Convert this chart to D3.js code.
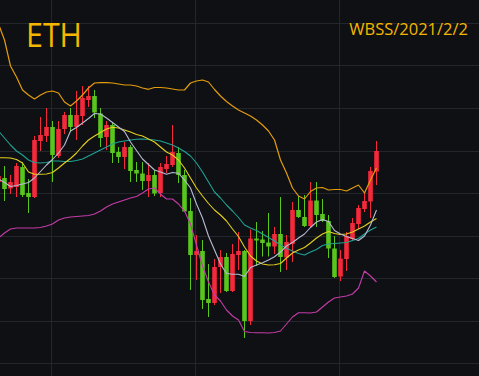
<!DOCTYPE html>
<html lang="en">
<head>
<meta charset="UTF-8">
<title>ETH</title>
<style>
html, body { margin: 0; padding: 0; background: #0e1013; overflow: hidden; }
svg { display: block; }
</style>
</head>
<body>
<svg id="chart"></svg>
<script src="https://d3js.org/d3.v7.min.js"></script>
<script>
// candle index (first one is cut by the left edge)
const candleIdx = d3.range(-1, 63);

// OHLC
const opens = [1218, 1222, 1211.5, 1213, 1233, 1207, 1203, 1259, 1264, 1273,
  1244, 1271, 1285, 1273, 1284, 1300, 1304, 1286.5, 1263, 1275,
  1248, 1243, 1253, 1230, 1226.5, 1219, 1225, 1207, 1231, 1235,
  1247, 1225, 1189, 1145, 1149, 1101, 1097, 1133, 1143, 1109,
  1145, 1149, 1079, 1161.5, 1160.5, 1157.5, 1153.5, 1166, 1142.5, 1156,
  1190, 1183, 1174, 1199.5, 1186, 1179, 1151.5, 1123.5, 1141, 1161,
  1176, 1191, 1198.5, 1228.5];
const highs = [1228, 1234, 1225, 1237, 1238, 1221, 1264, 1283, 1292, 1279,
  1279, 1288, 1292, 1309, 1314, 1314, 1310, 1292, 1279, 1278,
  1253, 1258, 1255, 1238, 1238, 1237, 1230, 1237, 1244, 1275,
  1253, 1230, 1202, 1165, 1160, 1136, 1141, 1150, 1147, 1156,
  1168, 1150, 1170.5, 1178, 1169, 1187, 1173, 1203, 1165, 1198,
  1204, 1205, 1218, 1218, 1201, 1185, 1164, 1150, 1168, 1182,
  1195, 1207, 1233, 1259];
const lows = [1214, 1199, 1206, 1203, 1203, 1187, 1202, 1249, 1258, 1218,
  1242, 1266, 1268, 1260, 1275, 1293, 1282, 1253, 1250, 1237,
  1237, 1231, 1218, 1218, 1210, 1203, 1204, 1203, 1227, 1233,
  1217, 1188, 1110, 1120, 1091, 1083, 1095, 1107, 1108, 1108,
  1130, 1062, 1075, 1134, 1143.5, 1143.5, 1146, 1128, 1130, 1138,
  1182, 1173, 1172, 1173, 1178, 1142, 1122, 1119, 1129, 1160,
  1171, 1188, 1182, 1215];
const closes = [1224, 1211, 1218, 1234, 1205, 1203, 1260, 1265, 1273, 1245,
  1271, 1285, 1273, 1285, 1302, 1304, 1287.5, 1262, 1275, 1247,
  1243, 1253, 1229, 1226.5, 1219, 1225, 1206.5, 1233, 1236, 1248,
  1225, 1188.5, 1145, 1149, 1100, 1097, 1133, 1143, 1109, 1146,
  1149, 1079, 1161.5, 1159.5, 1157, 1153.5, 1166, 1143, 1158, 1190,
  1183, 1174, 1199.5, 1185, 1179, 1151.5, 1123, 1141.5, 1164, 1177,
  1192, 1199, 1229, 1249];

// indicator lines
const upperBand = [1376, 1360, 1334, 1323, 1310, 1305, 1301, 1305, 1308, 1309,
  1307, 1298, 1294, 1299, 1305, 1312, 1317, 1317.3, 1317.3, 1317,
  1316, 1315, 1315, 1314, 1312, 1310.7, 1312.5, 1312.5, 1312, 1311,
  1310, 1310, 1317, 1319, 1320, 1318, 1310.5, 1304, 1298.5, 1294,
  1290, 1287, 1284, 1280, 1275, 1269, 1260, 1240, 1227, 1212,
  1204, 1201, 1208.5, 1212, 1212.5, 1210, 1210.5, 1210.5, 1209, 1212,
  1215, 1207, 1220, 1232];
const lowerBand = [1162, 1167, 1171, 1172, 1172, 1172, 1172, 1172.5, 1174, 1176,
  1180, 1182, 1183, 1183.5, 1184, 1184.5, 1186, 1189, 1193, 1196,
  1198, 1200, 1202, 1203.5, 1207, 1211, 1212, 1206, 1201, 1201,
  1196, 1189, 1176, 1155, 1134, 1118, 1105, 1099, 1090, 1084,
  1080, 1068.5, 1067.5, 1067.3, 1067.3, 1067, 1067.5, 1069, 1076, 1083,
  1087.3, 1087.3, 1087, 1088, 1093, 1098, 1102, 1103, 1104, 1106,
  1112, 1129, 1124, 1118];
const ma5 = [1221, 1217.5, 1213.5, 1214.5, 1216, 1217.5, 1222, 1228.5, 1235, 1240.5,
  1247, 1255, 1269, 1272.5, 1277, 1281.5, 1286.5, 1286, 1282, 1277.5,
  1273, 1268.5, 1258, 1249.5, 1241, 1235.5, 1230, 1228, 1225.7, 1227.5,
  1226.7, 1220, 1212, 1196, 1182, 1164, 1150, 1136, 1126.5, 1125.7,
  1125.7, 1123.5, 1132.5, 1135, 1137.3, 1140, 1143.3, 1148, 1154, 1157.5,
  1162, 1166, 1172.5, 1178, 1180.5, 1178.5, 1169.5, 1166, 1163.5, 1161.5,
  1159.5, 1164, 1175, 1190];
const ma10 = [1242.3, 1242.3, 1242, 1240.5, 1237, 1228, 1225.7, 1225.7, 1226, 1227.5,
  1232, 1237, 1241.5, 1247, 1254, 1260, 1264, 1267.5, 1271, 1272.7,
  1272, 1270, 1268, 1265.5, 1264, 1261, 1258, 1253, 1248, 1245,
  1240, 1232, 1222, 1212, 1204, 1196.5, 1190, 1185, 1179, 1171,
  1163.5, 1153, 1144, 1139, 1136, 1135, 1135.2, 1136.5, 1142, 1147,
  1150, 1152.5, 1157, 1162, 1166, 1168.5, 1166.5, 1165.5, 1166, 1168,
  1171, 1174, 1178, 1181.5];
const ma20 = [1269, 1262, 1255, 1249, 1245, 1240, 1237.5, 1237, 1237.5, 1239,
  1239, 1238.5, 1238.5, 1239.5, 1241, 1244, 1247, 1250, 1253, 1256,
  1258, 1259, 1260, 1260.7, 1261, 1260.5, 1260, 1259, 1257, 1255,
  1252, 1248.5, 1244, 1237, 1228, 1218, 1208, 1202, 1195, 1189,
  1182.5, 1175, 1172, 1169.5, 1166, 1162.5, 1159, 1155, 1151.7, 1149,
  1146.5, 1145, 1148, 1150.5, 1154.5, 1156, 1156.5, 1157, 1157.5, 1159.5,
  1161.5, 1166, 1170, 1173];

// grid positions
const gridPrices = [1377, 1334.5, 1292, 1249.5, 1207, 1164.5, 1122, 1079.5, 1037];
const gridIdx = [7.8, 31.8, 55.8];

const title = "ETH";
const stamp = "WBSS/2021/2/2";

const width = 479, height = 376;
const svg = d3.select("#chart").attr("width", width).attr("height", height);

svg.append("rect").attr("width", width).attr("height", height).attr("fill", "#0e1013");

const x = d3.scaleLinear().domain([-1, 62]).range([-1.5, 376.5]);
const y = d3.scaleLinear().domain([1024, 1400]).range([height, 0]);

// grid
const grid = svg.append("g").attr("stroke", "#23262b").attr("stroke-width", 1);
grid.selectAll("line.h").data(gridPrices).join("line")
  .attr("x1", 0).attr("x2", width)
  .attr("y1", d => Math.round(y(d)) + 0.5)
  .attr("y2", d => Math.round(y(d)) + 0.5);
grid.selectAll("line.v").data(gridIdx).join("line")
  .attr("y1", 0).attr("y2", height)
  .attr("x1", d => Math.round(x(d)) + 0.5)
  .attr("x2", d => Math.round(x(d)) + 0.5);

// candles
const candles = candleIdx.map((k, i) => ({
  k, o: opens[i], h: highs[i], l: lows[i], c: closes[i]
}));
const up = "#f6293b", down = "#58c61d";
const bodyW = 4.6;

const cg = svg.append("g").selectAll("g").data(candles).join("g");
cg.append("line")
  .attr("x1", d => Math.floor(x(d.k)) + 0.5)
  .attr("x2", d => Math.floor(x(d.k)) + 0.5)
  .attr("y1", d => y(d.h))
  .attr("y2", d => y(d.l))
  .attr("stroke", d => d.c >= d.o ? up : down)
  .attr("stroke-width", 1);
cg.append("rect")
  .attr("x", d => x(d.k) - bodyW / 2)
  .attr("width", bodyW)
  .attr("y", d => y(Math.max(d.o, d.c)))
  .attr("height", d => Math.max(1, Math.abs(y(d.o) - y(d.c))))
  .attr("fill", d => d.c >= d.o ? up : down);

// indicator lines
const series = [
  { values: lowerBand, color: "#c53ba9", w: 1.1 },
  { values: ma20, color: "#1fa394", w: 1.1 },
  { values: ma10, color: "#e2cf1c", w: 1.1 },
  { values: ma5, color: "#b8bbd4", w: 1.1 },
  { values: upperBand, color: "#e39c0d", w: 1.2 }
];
const line = d3.line().x((d, i) => x(candleIdx[i])).y(d => y(d));
svg.append("g").selectAll("path").data(series).join("path")
  .attr("d", d => line(d.values))
  .attr("fill", "none")
  .attr("stroke", d => d.color)
  .attr("stroke-width", d => d.w)
  .attr("stroke-linejoin", "round");

// texts
svg.append("text")
  .attr("x", 26).attr("y", 47)
  .attr("fill", "#f6b600")
  .attr("font-family", "'Open Sans', 'Noto Sans', sans-serif")
  .attr("font-size", 33)
  .attr("textLength", 56)
  .attr("lengthAdjust", "spacingAndGlyphs")
  .text(title);

svg.append("text")
  .attr("x", 468).attr("y", 35)
  .attr("text-anchor", "end")
  .attr("fill", "#f6b600")
  .attr("font-family", "'Open Sans', 'Noto Sans', sans-serif")
  .attr("font-size", 16.5)
  .text(stamp);
</script>
</body>
</html>
